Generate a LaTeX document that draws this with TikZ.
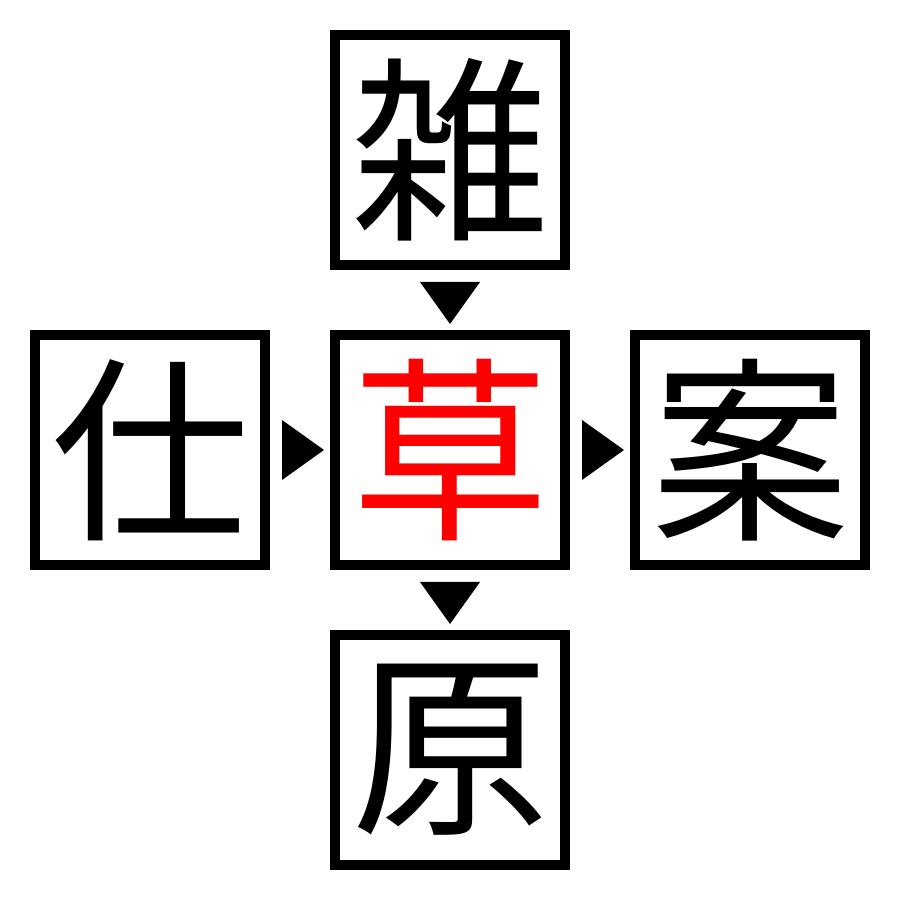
\documentclass[tikz,border=0pt]{standalone}
\usepackage{fontspec}
\newfontfamily\cjk{Noto Sans CJK JP}
\usetikzlibrary{positioning}
\usetikzlibrary{calc}
\tikzset{x=1pt,y=1pt}
\tikzset{kanji/.style={draw, line width=10pt, minimum size=230pt, inner sep=0pt, font=\cjk\fontsize{198}{198}\selectfont}}
\newcommand{\pointer}[2]{% {coordinate}{rotation}
    \fill[rotate around={#2:(#1)}] ($(#1)+(-30,18)$) -- ($(#1)+(30,18)$) -- ($(#1)+(0,-24)$) -- cycle; % arrow tip
}

\begin{document}
\begin{tikzpicture}
    \useasboundingbox (0,0) rectangle (900,900);

    \node[kanji, text=red] (mid) at (450,450) {草};
    \node[kanji, above=60pt of mid] (top) {雑};
    \node[kanji, below=60pt of mid] (bot) {原};
    \node[kanji, left=60pt of mid] (lft) {仕};
    \node[kanji, right=60pt of mid] (rgt) {案};

    \coordinate (a1) at ($(top.south)!.5!(mid.north)$);
    \coordinate (a2) at ($(mid.south)!.5!(bot.north)$);
    \coordinate (a3) at ($(lft.east)!.5!(mid.west)$);
    \coordinate (a4) at ($(mid.east)!.5!(rgt.west)$);

    \pointer{a1}{0};
    \pointer{a2}{0};
    \pointer{a3}{90};
    \pointer{a4}{90};

\end{tikzpicture}
\end{document}
